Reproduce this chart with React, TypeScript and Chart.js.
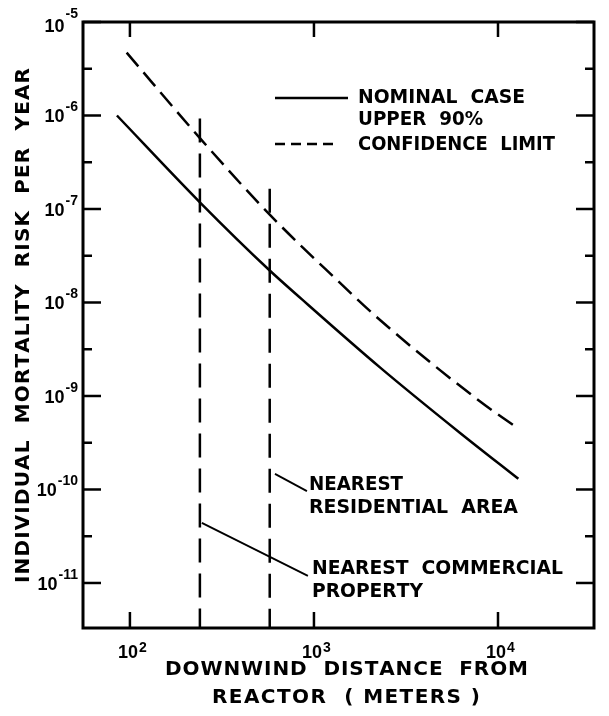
import React, { useEffect, useRef } from "react";
import { Chart, registerables } from "chart.js";

Chart.register(...registerables);

// ---- data ----
const nominalDistance = [85, 240, 575, 861, 2300, 6200, 12900];
const nominalRisk = [1.0e-6, 1.18e-7, 2.2e-8, 1.08e-8, 2.0e-9, 4.05e-10, 1.3e-10];

const upperDistance = [96, 240, 575, 1268, 2370, 7900, 12900];
const upperRisk = [4.7e-6, 5.73e-7, 8.7e-8, 1.91e-8, 6.1e-9, 8.9e-10, 4.46e-10];

const commercialDistance = [240, 240];
const commercialRisk = [9.3e-7, 3.3e-12];
const residentialDistance = [575, 575];
const residentialRisk = [1.65e-7, 3.3e-12];

const residentialLeaderDistance = [614, 916];
const residentialLeaderRisk = [1.47e-10, 9.6e-11];
const commercialLeaderDistance = [246, 927];
const commercialLeaderRisk = [4.39e-11, 1.19e-11];

const xMin = 55.6;
const xMax = 33240;
const yMin = 3.3e-12;
const yMax = 1e-5;

const xTickValues = [1e2, 1e3, 1e4];
const xTickExponents = ["2", "3", "4"];
const yTickValues = [1e-5, 1e-6, 1e-7, 1e-8, 1e-9, 1e-10, 1e-11];
const yTickExponents = ["-5", "-6", "-7", "-8", "-9", "-10", "-11"];
const yMinorTickValues = [3.162e-6, 3.162e-7, 3.162e-8, 3.162e-9, 3.162e-10, 3.162e-11];

const legendLabels = ["NOMINAL  CASE", "UPPER  90%", "CONFIDENCE  LIMIT"];
const annotationLabels = ["NEAREST", "RESIDENTIAL  AREA", "NEAREST  COMMERCIAL", "PROPERTY"];
const xTitleLines = ["DOWNWIND  DISTANCE  FROM", "REACTOR  ( METERS )"];
const yTitle = "INDIVIDUAL  MORTALITY  RISK  PER  YEAR";

const FONT = "'DejaVu Sans', 'Liberation Sans', Arial, sans-serif";
const NUM_FONT = "'Liberation Sans', Arial, sans-serif";

const pts = (xs: number[], ys: number[]) => xs.map((x, i) => ({ x, y: ys[i] }));

function spacedText(ctx: CanvasRenderingContext2D, text: string, left: number, base: number, width: number, font: string) {
  ctx.font = font;
  ctx.textAlign = "left";
  ctx.textBaseline = "alphabetic";
  const chars = Array.from(text);
  const widths = chars.map((c) => ctx.measureText(c).width);
  const total = widths.reduce((a, b) => a + b, 0);
  let extra = chars.length > 1 ? (width - total) / (chars.length - 1) : 0;
  let sx = 1;
  if (extra < 0) {
    sx = width / total;
    extra = 0;
  }
  ctx.save();
  ctx.translate(left, base);
  ctx.scale(sx, 1);
  let x = 0;
  chars.forEach((c, i) => {
    ctx.fillText(c, x, 0);
    x += widths[i] + extra;
  });
  ctx.restore();
}

function seg(ctx: CanvasRenderingContext2D, x1: number, y1: number, x2: number, y2: number) {
  ctx.beginPath();
  ctx.moveTo(x1, y1);
  ctx.lineTo(x2, y2);
  ctx.stroke();
}

const overlay = {
  id: "overlay",
  beforeDraw(chart: any) {
    const ctx = chart.ctx as CanvasRenderingContext2D;
    ctx.save();
    ctx.fillStyle = "#fff";
    ctx.fillRect(0, 0, chart.width, chart.height);
    ctx.restore();
  },
  afterDraw(chart: any) {
    const ctx = chart.ctx as CanvasRenderingContext2D;
    const { left, top, right, bottom } = chart.chartArea;
    const xs = chart.scales.x;
    const ys = chart.scales.y;
    ctx.save();
    ctx.strokeStyle = "#000";
    ctx.fillStyle = "#000";
    ctx.lineCap = "butt";
    ctx.setLineDash([]);

    // frame
    ctx.lineWidth = 3;
    ctx.strokeRect(left, top, right - left, bottom - top);

    // ticks
    ctx.lineWidth = 2.5;
    yTickValues.forEach((v) => {
      const py = ys.getPixelForValue(v);
      seg(ctx, left, py, left + 18, py);
      seg(ctx, right - 18, py, right, py);
    });
    yMinorTickValues.forEach((v) => {
      const py = ys.getPixelForValue(v);
      seg(ctx, left, py, left + 9, py);
      seg(ctx, right - 9, py, right, py);
    });
    xTickValues.forEach((v) => {
      const px = xs.getPixelForValue(v);
      seg(ctx, px, bottom, px, bottom - 16);
      seg(ctx, px, top, px, top + 15);
    });

    // tick labels
    const baseFont = `bold 18px ${NUM_FONT}`;
    const supFont = `bold 14px ${NUM_FONT}`;
    ctx.textBaseline = "alphabetic";
    xTickValues.forEach((v, i) => {
      const px = xs.getPixelForValue(v);
      ctx.font = baseFont;
      ctx.textAlign = "right";
      ctx.fillText("10", px + 8, bottom + 30);
      ctx.font = supFont;
      ctx.textAlign = "left";
      ctx.fillText(xTickExponents[i], px + 9, bottom + 24);
    });
    yTickValues.forEach((v, i) => {
      const py = ys.getPixelForValue(v);
      ctx.font = supFont;
      ctx.textAlign = "right";
      const sup = yTickExponents[i];
      const supW = ctx.measureText(sup).width;
      ctx.fillText(sup, left - 5, py - 4);
      ctx.font = baseFont;
      ctx.fillText("10", left - 6 - supW, py + (i === 0 ? 10 : 7));
    });

    // legend
    const labelFont = `bold 20px ${FONT}`;
    ctx.lineWidth = 2.5;
    seg(ctx, 275, 98, 348, 98);
    ctx.setLineDash([10, 6]);
    seg(ctx, 275, 144, 333, 144);
    ctx.setLineDash([]);
    spacedText(ctx, legendLabels[0], 358, 103, 167, labelFont);
    spacedText(ctx, legendLabels[1], 358, 125, 125, labelFont);
    spacedText(ctx, legendLabels[2], 358, 150, 197, labelFont);

    // annotations
    spacedText(ctx, annotationLabels[0], 309, 490, 94, labelFont);
    spacedText(ctx, annotationLabels[1], 309, 513, 209, labelFont);
    spacedText(ctx, annotationLabels[2], 312, 574, 251, labelFont);
    spacedText(ctx, annotationLabels[3], 312, 597, 111, labelFont);

    // axis titles
    spacedText(ctx, xTitleLines[0], 165, 675, 363, labelFont);
    spacedText(ctx, xTitleLines[1], 212, 703, 268, labelFont);
    ctx.save();
    ctx.translate(29, 583);
    ctx.rotate(-Math.PI / 2);
    spacedText(ctx, yTitle, 0, 0, 515, labelFont);
    ctx.restore();

    ctx.restore();
  },
};

export default function App() {
  const ref = useRef<HTMLCanvasElement | null>(null);
  useEffect(() => {
    if (!ref.current) return;
    const common = { pointRadius: 0, borderColor: "#000", fill: false };
    const chart = new Chart(ref.current, {
      type: "line",
      data: {
        datasets: [
          {
            ...common,
            label: "NOMINAL CASE",
            data: pts(nominalDistance, nominalRisk),
            borderWidth: 2.5,
            cubicInterpolationMode: "monotone",
          },
          {
            ...common,
            label: "UPPER 90% CONFIDENCE LIMIT",
            data: pts(upperDistance, upperRisk),
            borderWidth: 2.5,
            borderDash: [18, 8],
            cubicInterpolationMode: "monotone",
          },
          {
            ...common,
            label: "Nearest commercial property",
            data: pts(commercialDistance, commercialRisk),
            borderWidth: 2.5,
            borderDash: [24, 11],
          },
          {
            ...common,
            label: "Nearest residential area",
            data: pts(residentialDistance, residentialRisk),
            borderWidth: 2.5,
            borderDash: [24, 11],
          },
          {
            ...common,
            label: "residential leader",
            data: pts(residentialLeaderDistance, residentialLeaderRisk),
            borderWidth: 1.8,
          },
          {
            ...common,
            label: "commercial leader",
            data: pts(commercialLeaderDistance, commercialLeaderRisk),
            borderWidth: 1.8,
          },
        ],
      } as any,
      options: {
        responsive: false,
        animation: false,
        devicePixelRatio: 1,
        events: [],
        layout: { padding: { left: 83, top: 22, right: 15, bottom: 88 } },
        plugins: { legend: { display: false }, tooltip: { enabled: false } },
        scales: {
          x: { type: "logarithmic", min: xMin, max: xMax, display: false },
          y: { type: "logarithmic", min: yMin, max: yMax, display: false },
        },
      } as any,
      plugins: [overlay],
    });
    return () => chart.destroy();
  }, []);
  return (
    <div style={{ position: "absolute", left: 0, top: 0, width: 609, height: 716, background: "#fff" }}>
      <canvas ref={ref} width={609} height={716} style={{ display: "block", width: 609, height: 716 }} />
    </div>
  );
}
